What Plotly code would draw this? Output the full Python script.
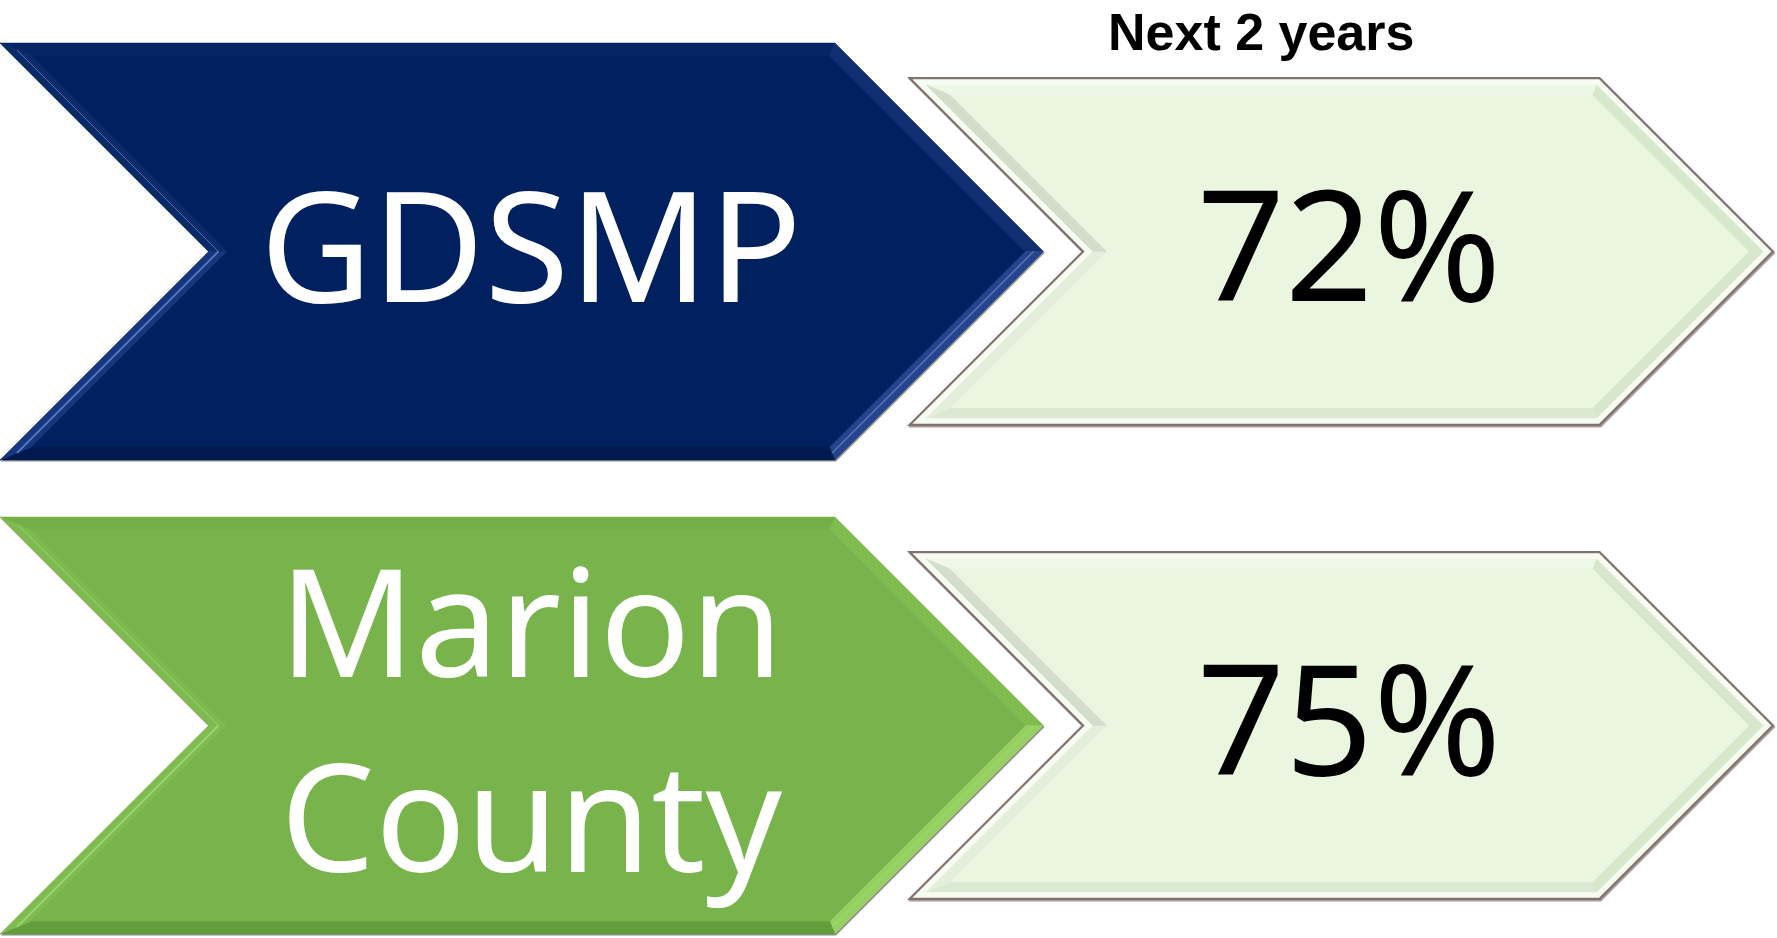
import plotly.graph_objects as go

# ---------------- data ----------------
header = "Next 2 years"
labels = ["GDSMP", "Marion<br>County"]
values = [72, 75]  # percent, next 2 years
label_colors = ["#002060", "#78B44B"]

# ---------------- layout parameters ----------------
W, H = 1777, 938
row_tops = [43, 517]
chev_h = 417
chev_body = 835
box_top_off = 34
box_h = 349
box_left = 907
box_body = 1600
label_x = 531
value_x = 1349
header_xy = (1261, 1)

bevel_sets = {
    "#002060": ["#062566", "#0f2f72", "#24458c", "#001a4f", "#163680", "#0a2a6a"],
    "#78B44B": ["#74b047", "#80bc50", "#96d062", "#649e3c", "#80bb52", "#7fba51"],
}
highlight = {"#002060": "#5474b4", "#78B44B": "#9ad56a"}


def offset_poly(pts, d):
    a = 0
    n = len(pts)
    for i in range(n):
        x1, y1 = pts[i]
        x2, y2 = pts[(i + 1) % n]
        a += x1 * y2 - x2 * y1
    sgn = 1 if a > 0 else -1
    lines = []
    for i in range(n):
        x1, y1 = pts[i]
        x2, y2 = pts[(i + 1) % n]
        dx, dy = x2 - x1, y2 - y1
        L = (dx * dx + dy * dy) ** 0.5
        nx, ny = -dy / L * sgn, dx / L * sgn
        lines.append(((x1 + nx * d, y1 + ny * d), (dx, dy)))
    out = []
    for i in range(n):
        (p1, v1) = lines[i - 1]
        (p2, v2) = lines[i]
        den = v1[0] * v2[1] - v1[1] * v2[0]
        t = ((p2[0] - p1[0]) * v2[1] - (p2[1] - p1[1]) * v2[0]) / den
        out.append((p1[0] + v1[0] * t, p1[1] + v1[1] * t))
    return out


def path(pts, close=True):
    return "M " + " L ".join(f"{x:.1f},{y:.1f}" for x, y in pts) + (" Z" if close else "")


def shape(pts, fill, line=None, lw=0):
    return dict(type="path", xref="x", yref="y", path=path(pts), fillcolor=fill,
                layer="below", line=dict(width=lw, color=line or fill))


def polyline(pts, color, lw):
    return dict(type="path", xref="x", yref="y", path=path(pts, close=False),
                fillcolor="rgba(0,0,0,0)", layer="below", line=dict(width=lw, color=color))


def strips(outer, inner, colors):
    res = []
    n = len(outer)
    for i in range(n):
        j = (i + 1) % n
        res.append(shape([outer[i], outer[j], inner[j], inner[i]], colors[i], colors[i], 0.5))
    return res


shapes = []
annotations = []

for k, (lab, val, col) in enumerate(zip(labels, values, label_colors)):
    t = row_tops[k]
    b = t + chev_h
    m = t + chev_h / 2
    chev = [(0, t), (chev_body, t), (chev_body + chev_h / 2, m), (chev_body, b), (0, b), (chev_h / 2, m)]
    shapes.append(shape([(x + 1, y + 1.5) for x, y in chev], "#8f8f8f"))
    inner = offset_poly(chev, 13)
    shapes += strips(chev, inner, bevel_sets[col])
    shapes.append(shape(inner, col, col, 0.5))
    mid = offset_poly(chev, 7)
    shapes.append(polyline([mid[4], mid[5]], highlight[col], 2))
    shapes.append(polyline([mid[5], mid[0]], highlight[col], 1))
    shapes.append(polyline([mid[2], mid[3]], highlight[col], 1.5))

    bt = t + box_top_off
    bb = bt + box_h
    box = [(box_left, bt), (box_body, bt), (box_body + box_h / 2, m), (box_body, bb), (box_left, bb), (box_left + box_h / 2, m)]
    shapes.append(shape([(x + 1, y + 1.5) for x, y in box], "#a89e9c"))
    shapes.append(shape(box, "#80736f"))
    b1 = offset_poly(box, 2.2)
    b2 = offset_poly(box, 8)
    b3 = offset_poly(box, 18)
    shapes.append(shape(b1, "#F7FCF2"))
    shapes += strips(b2, b3, ["#EEF8E6", "#D8E6CC", "#D8E6CC", "#DCE9D2", "#E4EEDC", "#D4DDCC"])
    shapes.append(shape(b3, "#EAF6E0"))

    annotations.append(dict(x=label_x, y=m + (-10 if k == 0 else -9),
                            text=lab, showarrow=False, xref="x", yref="y",
                            font=dict(family="Noto Sans", size=154 if k == 0 else 150, color="white"),
                            xanchor="center", yanchor="middle"))
    annotations.append(dict(x=value_x, y=m - 11, text=f"{val}%", showarrow=False, xref="x", yref="y",
                            font=dict(family="Noto Sans", size=154, color="black"),
                            xanchor="center", yanchor="middle"))

annotations.append(dict(x=header_xy[0], y=header_xy[1], text=f"<b>{header}</b>", showarrow=False,
                        xref="x", yref="y",
                        font=dict(family="Liberation Sans", size=52, color="black"),
                        xanchor="center", yanchor="top"))

fig = go.Figure()
fig.add_trace(go.Scatter(x=[0, W], y=[0, H], mode="markers", marker=dict(opacity=0), hoverinfo="skip",
                         showlegend=False))
fig.update_layout(
    width=W, height=H, margin=dict(l=0, r=0, t=0, b=0),
    paper_bgcolor="white", plot_bgcolor="white",
    xaxis=dict(range=[0, W], visible=False, fixedrange=True),
    yaxis=dict(range=[H, 0], visible=False, fixedrange=True),
    shapes=shapes, annotations=annotations, showlegend=False,
)
fig.write_html("out.html", config={"displayModeBar": False},
               post_script="document.body.style.margin='0';document.body.style.overflow='hidden';")
